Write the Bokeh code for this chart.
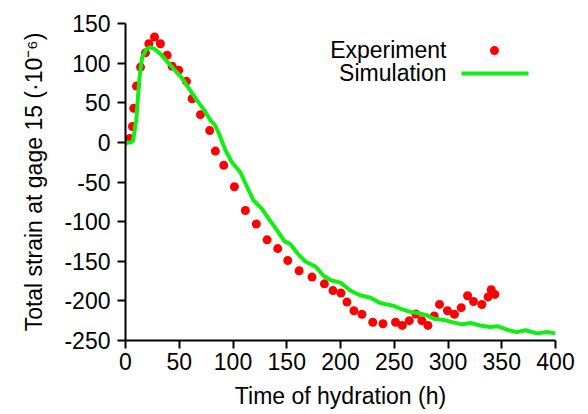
from bokeh.plotting import figure
from bokeh.models import Label, BoxAnnotation, Range1d
from bokeh.embed import file_html
from bokeh.resources import INLINE

# Experiment (red points)
exp_time = [-2, 4, 6.5, 7.7, 10.2, 14, 18.6, 21.7, 27, 32.5, 38.7, 43.4, 49.5, 56.7, 62,
            69.7, 78.3, 83.6, 91.4, 101.3, 111.5, 121.7, 131.7, 141.6, 150.9, 161.5,
            173.5, 185, 193, 200.4, 206, 212.5, 220, 230, 239.5, 251.2, 257.5, 264,
            270.2, 275.7, 281.3, 287.2, 292.1, 299.5, 306, 312.3, 318.2, 323.7, 331.5,
            337.3, 340.2, 343.6]
exp_strain = [0, 5, 20, 43, 71, 95, 113, 124.5, 133, 124.5, 110, 96, 91, 77, 55,
              35, 15, -11, -29, -56, -86, -103, -123, -134, -149, -162,
              -170, -178.5, -187, -190, -201.5, -212.5, -217, -227, -228.8, -227, -231, -225,
              -216.5, -225, -231, -219, -204.5, -212.5, -217, -208.6, -193.5, -200.8, -204.6,
              -195, -185.9, -191.8]

# Simulation (green line)
sim_time = [0, 5, 7, 10, 13, 15.5, 19, 22.5, 27, 33, 40, 46, 52, 58, 66, 73, 79, 83, 87,
            93, 99, 107, 113, 119, 127, 133, 142, 148, 153, 160, 167, 177, 184, 191, 200,
            209, 218, 228, 236, 241, 249, 256, 265, 271, 280, 287, 296, 304, 313, 321,
            330, 339, 346, 355, 364, 372, 383, 392, 400]
sim_strain = [0, 0, 2, 28, 82, 107, 117, 120, 118, 111, 100, 91, 82, 70, 54, 41, 28, 22, 11,
              -10, -25, -38, -56, -73, -84, -96, -113, -125, -128, -140, -150, -157, -168, -174, -177,
              -187, -193, -196, -202, -204, -206, -210, -214, -215, -218, -222.5, -224, -226.8, -229.6, -228,
              -231, -233, -232, -236.4, -239.4, -237, -241, -239.4, -241]

x_ticks = [0, 50, 100, 150, 200, 250, 300, 350, 400]
y_ticks = [-250, -200, -150, -100, -50, 0, 50, 100, 150]
y_tick_labels = ["-250", "-200", "-150", "-100", "-50", "0", "50", "100", "150"]

FONT = "Liberation Sans"
FS = "23px"

p = figure(width=588, height=414, output_backend="svg", toolbar_location=None,
           x_range=Range1d(0, 400), y_range=Range1d(-250, 150),
           min_border_left=125, min_border_right=33, min_border_top=23, min_border_bottom=74,
           x_axis_label="Time of hydration (h)",
           y_axis_label="Total strain at gage 15 (·10⁻⁶)")
p.outline_line_color = None
p.grid.visible = False
p.background_fill_color = "white"
p.border_fill_color = "white"

p.scatter(exp_time, exp_strain, size=9, fill_color="#ff0000", line_color=None)
p.line(sim_time, sim_strain, line_color="#11ee11", line_width=4)

p.xaxis.ticker = x_ticks
p.yaxis.ticker = y_ticks
p.yaxis.major_label_overrides = {t: s for t, s in zip(y_ticks, y_tick_labels)}
for ax in (p.xaxis[0], p.yaxis[0]):
    ax.axis_line_width = 2
    ax.axis_line_color = "black"
    ax.major_tick_line_width = 2
    ax.major_tick_line_color = "black"
    ax.major_tick_out = 8
    ax.major_tick_in = 0
    ax.minor_tick_out = 0
    ax.minor_tick_in = 0
    ax.major_label_text_font = FONT
    ax.major_label_text_font_size = FS
    ax.major_label_text_color = "black"
    ax.axis_label_text_font = FONT
    ax.axis_label_text_font_size = FS
    ax.axis_label_text_font_style = "normal"
    ax.axis_label_text_color = "black"
p.xaxis.major_label_standoff = 4
p.yaxis.major_label_standoff = 7
p.xaxis.axis_label_standoff = 10
p.yaxis.axis_label_standoff = 14

# legend (text on the left, sample on the right); screen units are frame-relative
p.add_layout(Label(x=321, y=291, x_units="screen", y_units="screen", text="Experiment",
                   text_align="right", text_baseline="alphabetic",
                   text_font=FONT, text_font_size=FS, text_color="black"))
p.add_layout(Label(x=321, y=268, x_units="screen", y_units="screen", text="Simulation",
                   text_align="right", text_baseline="alphabetic",
                   text_font=FONT, text_font_size=FS, text_color="black"))
p.add_layout(BoxAnnotation(left=364.5, right=373.5, top=294.5, bottom=285.5,
                           left_units="screen", right_units="screen",
                           top_units="screen", bottom_units="screen",
                           fill_color="#ff0000", fill_alpha=1, line_color=None,
                           border_radius=5))
p.add_layout(BoxAnnotation(left=336, right=403, top=269, bottom=265,
                           left_units="screen", right_units="screen",
                           top_units="screen", bottom_units="screen",
                           fill_color="#11ee11", fill_alpha=1, line_color=None))

open("out.html", "w").write(file_html(p, INLINE))
